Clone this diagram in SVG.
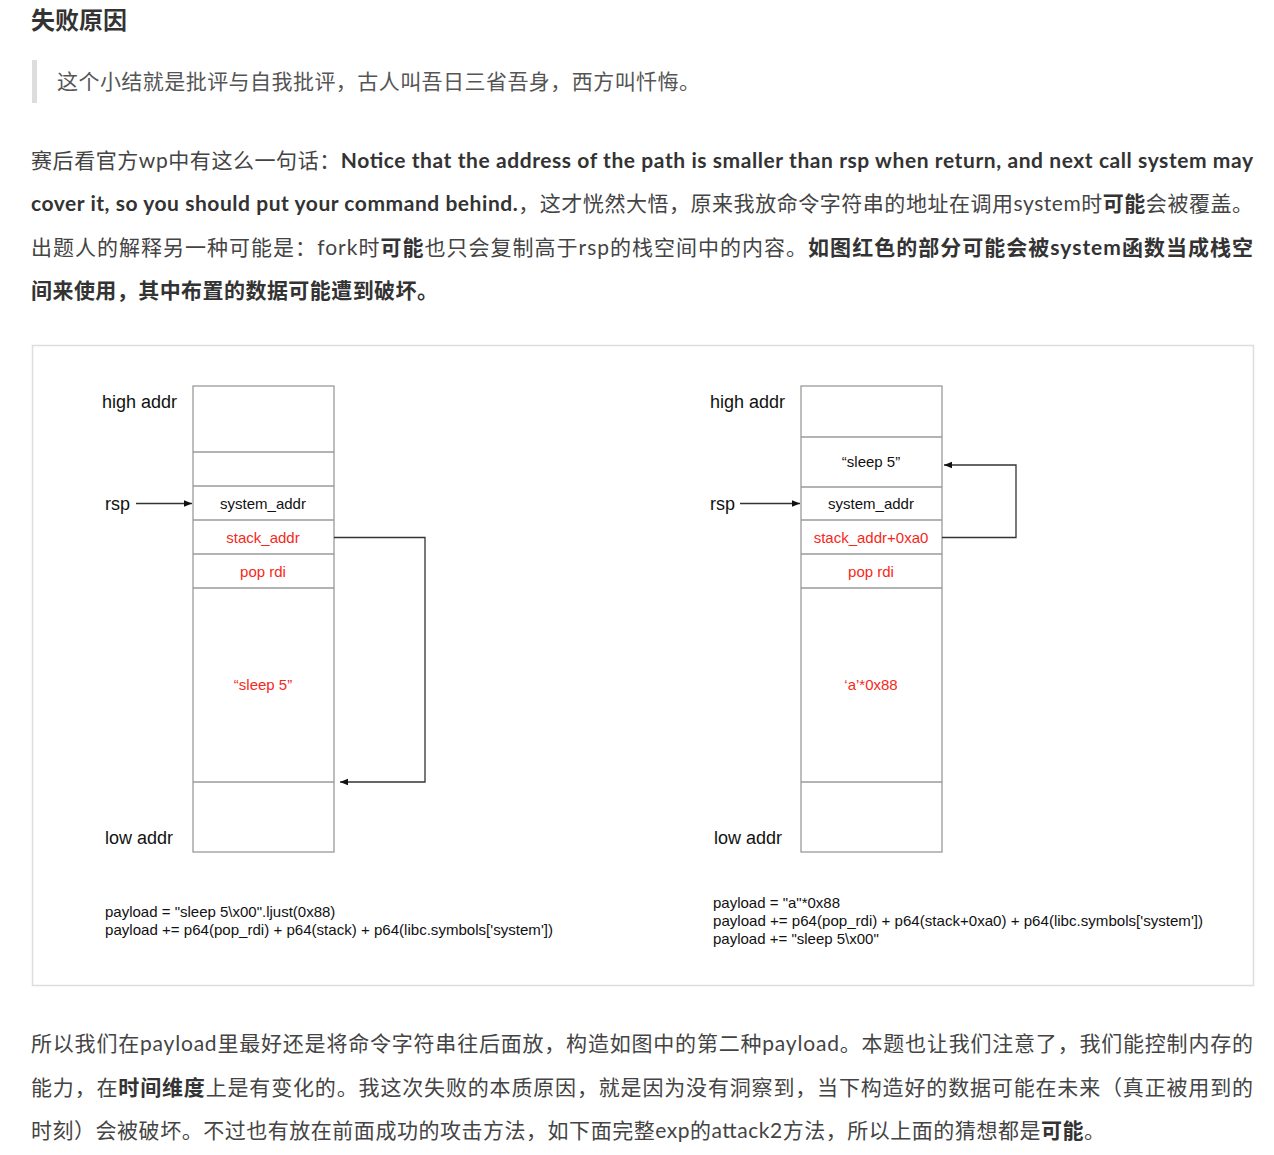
<svg xmlns="http://www.w3.org/2000/svg" width="1274" height="1155" viewBox="0 0 1274 1155">
<style>
.body{font-family:"Lato","Noto Sans CJK SC",sans-serif;font-size:21px;fill:#444}
.b{font-weight:bold;fill:#333}
.dg{font-family:"Liberation Sans",Arial,sans-serif;fill:#111}
.lbl{font-size:18px}
.cell{font-size:15px;text-anchor:middle}
.red{fill:#f5291b}
.code{font-size:15px}
.box{fill:#fff;stroke:#9a9a9a;stroke-width:1.3}
.conn{fill:none;stroke:#333;stroke-width:1.3}
</style>
<defs>
<marker id="ah" viewBox="0 0 10 10" refX="10" refY="5" markerWidth="8" markerHeight="8" orient="auto" markerUnits="userSpaceOnUse">
<path d="M0,1 L10,5 L0,9 z" fill="#111"/>
</marker>
</defs>
<rect width="1274" height="1155" fill="#fff"/>

<g id="header">
<text x="31" y="29" class="body b" style="font-size:24px">失败原因</text>
<rect x="32" y="60" width="5" height="43" fill="#ddd"/>
<text x="57" y="89" class="body" style="fill:#555" textLength="643" lengthAdjust="spacing">这个小结就是批评与自我批评，古人叫吾日三省吾身，西方叫忏悔。</text>
</g>

<g id="para1" class="body">
<text x="31" y="168" textLength="1222" lengthAdjust="spacing">赛后看官方wp中有这么一句话：<tspan class="b">Notice that the address of the path is smaller than rsp when return, and next call system may</tspan></text>
<text x="31" y="211" textLength="1222" lengthAdjust="spacing"><tspan class="b">cover it, so you should put your command behind.</tspan>，这才恍然大悟，原来我放命令字符串的地址在调用system时<tspan class="b">可能</tspan>会被覆盖。</text>
<text x="31" y="255" textLength="1222" lengthAdjust="spacing">出题人的解释另一种可能是：fork时<tspan class="b">可能</tspan>也只会复制高于rsp的栈空间中的内容。<tspan class="b">如图红色的部分可能会被system函数当成栈空</tspan></text>
<text x="31" y="298" class="b" textLength="407" lengthAdjust="spacing">间来使用，其中布置的数据可能遭到破坏。</text>
</g>

<rect id="frame" x="32.5" y="345.5" width="1221" height="640" fill="#fff" stroke="#ddd" stroke-width="1.5"/>

<g id="left-stack">
<rect class="box" x="193" y="386" width="141" height="466"/>
<line class="box" x1="193" y1="452" x2="334" y2="452"/>
<line class="box" x1="193" y1="486" x2="334" y2="486"/>
<line class="box" x1="193" y1="520" x2="334" y2="520"/>
<line class="box" x1="193" y1="554" x2="334" y2="554"/>
<line class="box" x1="193" y1="588" x2="334" y2="588"/>
<line class="box" x1="193" y1="782" x2="334" y2="782"/>
<text class="dg lbl" x="102" y="408">high addr</text>
<text class="dg lbl" x="105" y="510">rsp</text>
<text class="dg lbl" x="105" y="844">low addr</text>
<text class="dg cell" x="263" y="509">system_addr</text>
<text class="dg cell red" x="263" y="543">stack_addr</text>
<text class="dg cell red" x="263" y="577">pop rdi</text>
<text class="dg cell red" x="263" y="690">“sleep 5”</text>
</g>

<g id="right-stack">
<rect class="box" x="801" y="386" width="141" height="466"/>
<line class="box" x1="801" y1="437" x2="942" y2="437"/>
<line class="box" x1="801" y1="487" x2="942" y2="487"/>
<line class="box" x1="801" y1="520" x2="942" y2="520"/>
<line class="box" x1="801" y1="554" x2="942" y2="554"/>
<line class="box" x1="801" y1="588" x2="942" y2="588"/>
<line class="box" x1="801" y1="782" x2="942" y2="782"/>
<text class="dg lbl" x="710" y="408">high addr</text>
<text class="dg lbl" x="710" y="510">rsp</text>
<text class="dg lbl" x="714" y="844">low addr</text>
<text class="dg cell" x="871" y="467">“sleep 5”</text>
<text class="dg cell" x="871" y="509">system_addr</text>
<text class="dg cell red" x="871" y="543">stack_addr+0xa0</text>
<text class="dg cell red" x="871" y="577">pop rdi</text>
<text class="dg cell red" x="871" y="690">‘a’*0x88</text>
</g>

<g id="connectors">
<line class="conn" x1="136" y1="503.5" x2="192" y2="503.5" marker-end="url(#ah)"/>
<line class="conn" x1="740" y1="503.5" x2="800" y2="503.5" marker-end="url(#ah)"/>
<path class="conn" d="M334,537.5 H425 V782 H340" marker-end="url(#ah)"/>
<path class="conn" d="M942,537.5 H1016 V465 H944" marker-end="url(#ah)"/>
</g>

<g id="payloads" class="dg code">
<text x="105" y="917">payload = "sleep 5\x00".ljust(0x88)</text>
<text x="105" y="935" textLength="448" lengthAdjust="spacingAndGlyphs">payload += p64(pop_rdi) + p64(stack) + p64(libc.symbols['system'])</text>
<text x="713" y="908">payload = "a"*0x88</text>
<text x="713" y="926" textLength="490" lengthAdjust="spacingAndGlyphs">payload += p64(pop_rdi) + p64(stack+0xa0) + p64(libc.symbols['system'])</text>
<text x="713" y="944">payload += "sleep 5\x00"</text>
</g>

<g id="para2" class="body">
<text x="31" y="1051" textLength="1222" lengthAdjust="spacing">所以我们在payload里最好还是将命令字符串往后面放，构造如图中的第二种payload。本题也让我们注意了，我们能控制内存的</text>
<text x="31" y="1095" textLength="1222" lengthAdjust="spacing">能力，在<tspan class="b">时间维度</tspan>上是有变化的。我这次失败的本质原因，就是因为没有洞察到，当下构造好的数据可能在未来（真正被用到的</text>
<text x="31" y="1138" textLength="1074" lengthAdjust="spacing">时刻）会被破坏。不过也有放在前面成功的攻击方法，如下面完整exp的attack2方法，所以上面的猜想都是<tspan class="b">可能</tspan>。</text>
</g>
</svg>
